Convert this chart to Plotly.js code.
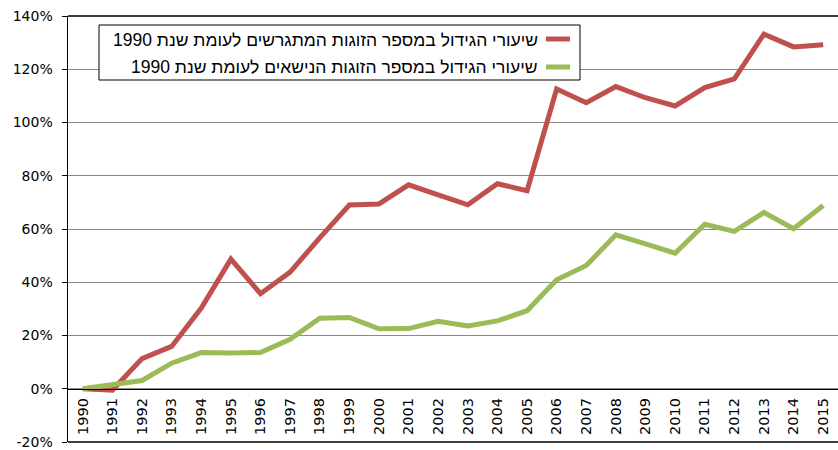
<!DOCTYPE html>
<html>
<head>
<meta charset="utf-8">
<script src="https://cdn.plot.ly/plotly-3.0.1.min.js"></script>
<style>html,body{margin:0;padding:0;background:#fff}#chart{width:838px;height:450px}</style>
</head>
<body>
<div id="chart"></div>
<script>
const years = [1990,1991,1992,1993,1994,1995,1996,1997,1998,1999,2000,2001,2002,2003,2004,2005,2006,2007,2008,2009,2010,2011,2012,2013,2014,2015];
const divorceGrowth = [0,-0.5,11.3,15.9,30.3,48.7,35.7,43.8,56.7,69,69.4,76.6,72.8,69.1,77.0,74.4,112.6,107.4,113.5,109.3,106.2,113.1,116.4,133.2,128.4,129.2];
const marriageGrowth = [0,1.7,3.1,9.6,13.6,13.4,13.6,18.6,26.5,26.8,22.5,22.6,25.3,23.6,25.5,29.3,40.9,46.3,57.8,54.4,50.9,61.8,59.1,66.2,60.1,68.8];
const seriesNames = ['שיעורי הגידול במספר הזוגות המתגרשים לעומת שנת 1990','שיעורי הגידול במספר הזוגות הנישאים לעומת שנת 1990'];
const yTicks = [-20,0,20,40,60,80,100,120,140];
const yTickText = yTicks.map(v => v + '%');

const W = 838, H = 450, L = 68, R = 0, T = 16, B = 8;
const px = x => (x - L) / (W - L - R);
const py = y => (H - B - y) / (H - T - B);

const colors = ['#C0504D', '#9BBB59'];
const font = 'DejaVu Sans, Verdana, sans-serif';
const legFont = 'Liberation Sans, Arial, sans-serif';

const traces = [
  {x: years, y: divorceGrowth, type: 'scatter', mode: 'lines', line: {color: colors[0], width: 5}, name: seriesNames[0]},
  {x: years, y: marriageGrowth, type: 'scatter', mode: 'lines', line: {color: colors[1], width: 5}, name: seriesNames[1]}
];

const xr = [years[0] - 0.5, years[years.length - 1] + 0.5];
const tickAx = (side) => ({
  range: xr, overlaying: 'x', anchor: 'free', position: 0.125,
  tickmode: 'linear', tick0: years[0] + 0.5, dtick: 1,
  ticks: side, ticklen: 6, tickcolor: '#000', tickwidth: 1,
  showticklabels: false, showgrid: false, zeroline: false, showline: false
});

const layout = {
  width: W, height: H,
  margin: {l: L, r: R, t: T, b: B},
  paper_bgcolor: '#fff', plot_bgcolor: '#fff',
  showlegend: false,
  font: {family: font, size: 14, color: '#000'},
  xaxis: {
    range: xr, anchor: 'free', position: 0.125,
    tickmode: 'array', tickvals: years, ticktext: years.map(String),
    tickangle: -90, ticks: '', showgrid: false, zeroline: false,
    showline: true, linecolor: '#000', linewidth: 1.5,
    ticklabelstandoff: 2,
    tickfont: {family: font, size: 14.5, color: '#000'}
  },
  xaxis2: tickAx('outside'),
  xaxis3: tickAx('inside'),
  yaxis: {
    range: [-20, 140], tickmode: 'array', tickvals: yTicks, ticktext: yTickText,
    ticks: 'outside', ticklen: 5, tickcolor: '#000', tickwidth: 1,
    showline: true, linecolor: '#000', linewidth: 1.5,
    showgrid: true, gridcolor: '#8a8a8a', gridwidth: 1, zeroline: false,
    ticklabelstandoff: 6,
    tickfont: {family: font, size: 14, color: '#000'}
  },
  shapes: [
    {type: 'line', xref: 'paper', yref: 'paper', x0: 0, x1: 1, y0: 1, y1: 1, line: {color: '#000', width: 1.5}},
    {type: 'line', xref: 'paper', yref: 'paper', x0: 0, x1: 1, y0: 0, y1: 0, line: {color: '#000', width: 1.5}},
    {type: 'rect', xref: 'paper', yref: 'paper', x0: px(99), x1: px(580), y0: py(80), y1: py(25), fillcolor: '#fff', line: {color: '#000', width: 1}},
    {type: 'line', xref: 'paper', yref: 'paper', x0: px(546), x1: px(570), y0: py(39), y1: py(39), line: {color: colors[0], width: 5}},
    {type: 'line', xref: 'paper', yref: 'paper', x0: px(546), x1: px(570), y0: py(67), y1: py(67), line: {color: colors[1], width: 5}}
  ],
  annotations: [
    {xref: 'paper', yref: 'paper', x: px(540), y: py(40), xanchor: 'right', yanchor: 'middle', showarrow: false, text: seriesNames[0], font: {family: legFont, size: 17.5, color: '#000'}},
    {xref: 'paper', yref: 'paper', x: px(540), y: py(67), xanchor: 'right', yanchor: 'middle', showarrow: false, text: seriesNames[1], font: {family: legFont, size: 17.5, color: '#000'}}
  ]
};

Plotly.newPlot('chart', traces, layout, {staticPlot: true, displayModeBar: false});
</script>
</body>
</html>
